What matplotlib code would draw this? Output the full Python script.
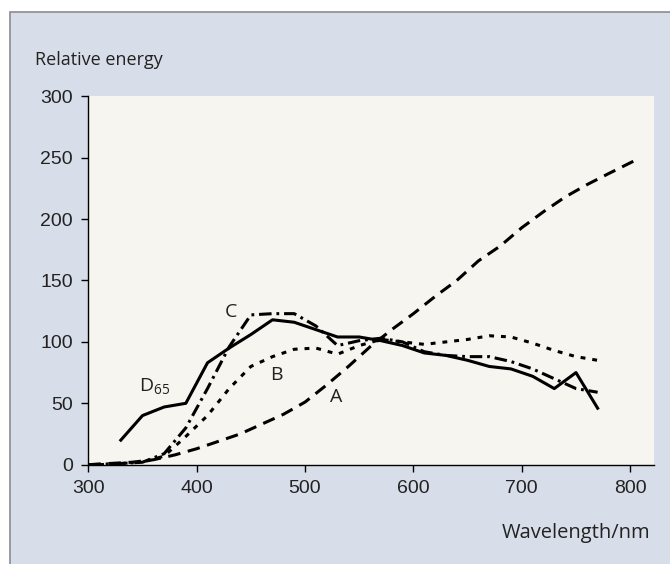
import matplotlib.pyplot as plt
from matplotlib.patches import Rectangle

plt.rcParams['lines.scale_dashes'] = False

# Relative spectral power of CIE illuminants
wl_a = [300, 320, 340, 360, 380, 400, 420, 440, 460, 480, 500, 520, 540, 560,
        580, 600, 620, 640, 660, 680, 700, 720, 740, 760, 780, 805]
energy_a = [0, 1, 2, 4, 8, 13, 19, 25, 33, 41, 51, 65, 80, 96,
            110, 123, 137, 150, 166, 178, 193, 206, 218, 228, 237, 248]

wl_b = [310, 350, 370, 390, 410, 430, 450, 470, 490, 510, 530, 550, 570, 590,
        610, 630, 650, 670, 690, 710, 730, 750, 770]
energy_b = [0, 2, 7, 23, 40, 62, 80, 88, 94, 95, 90, 97, 102, 100,
            98, 100, 102, 105, 104, 99, 93, 88, 85]

wl_c = [300, 330, 350, 370, 390, 410, 430, 450, 470, 490, 510, 530, 550, 570,
        590, 610, 630, 650, 670, 690, 710, 730, 750, 770]
energy_c = [0, 1, 2, 9, 30, 62, 96, 122, 123, 123, 113, 97, 101, 103,
            100, 92, 89, 88, 88, 84, 78, 70, 62, 59]

wl_d65 = [330, 350, 370, 390, 410, 430, 450, 470, 490, 510, 530, 550, 570, 590,
          610, 630, 650, 670, 690, 710, 730, 750, 770]
energy_d65 = [20, 40, 47, 50, 83, 95, 106, 118, 116, 110, 104, 104, 101, 97,
              91, 89, 85, 80, 78, 72, 62, 75, 46]

x_ticks = [300, 400, 500, 600, 700, 800]
y_ticks = [0, 50, 100, 150, 200, 250, 300]

fig = plt.figure(figsize=(6.7, 5.64), dpi=100)
fig.patch.set_facecolor('white')
# panel background with grey border
fig.patches.append(Rectangle((10 / 670, -0.01), 1.0, 1.01 - 12 / 564, transform=fig.transFigure,
                             facecolor='#d8dee9', edgecolor='#8c8c8c', linewidth=1.2, zorder=-10))

ax = fig.add_axes([88.3 / 670, 1 - 464.7 / 564, (654 - 88.3) / 670, (464.7 - 96.3) / 564])
ax.set_facecolor('#f7f5ef')

lw = 2.2
ax.plot(wl_a, energy_a, color='black', lw=lw, dashes=(9, 5.5))
ax.plot(wl_b, energy_b, color='black', lw=lw, dashes=(3.5, 5))
ax.plot(wl_c, energy_c, color='black', lw=lw, dashes=(9, 3.5, 2, 3.5))
ax.plot(wl_d65, energy_d65, color='black', lw=lw)

ax.set_xlim(300, 822)
ax.set_ylim(0, 300)
ax.set_xticks(x_ticks)
ax.set_yticks(y_ticks)
for s in ['top', 'right']:
    ax.spines[s].set_visible(False)
for s in ['left', 'bottom']:
    ax.spines[s].set_linewidth(1.0)
ax.tick_params(direction='out', length=5, width=1, labelsize=14, pad=6)
for lab in ax.get_xticklabels() + ax.get_yticklabels():
    lab.set_family('Liberation Sans')
    lab.set_color('#222222')

fig.text(35 / 670, 1 - 60 / 564, 'Relative energy', ha='left', va='center',
         family='Open Sans', fontsize=13, color='#222222')
fig.text(650 / 670, 1 - 533 / 564, 'Wavelength/nm', ha='right', va='center',
         family='Open Sans', fontsize=14.5, color='#222222')

curve_font = dict(family='Open Sans', fontsize=14, color='#222222', ha='center', va='center')
ax.text(432, 124, 'C', **curve_font)
ax.text(474, 73, 'B', **curve_font)
ax.text(529, 55, 'A', **curve_font)
ax.text(361, 63, r'D$_{\mathregular{65}}$', **curve_font)

plt.savefig('out.png', dpi=100)
